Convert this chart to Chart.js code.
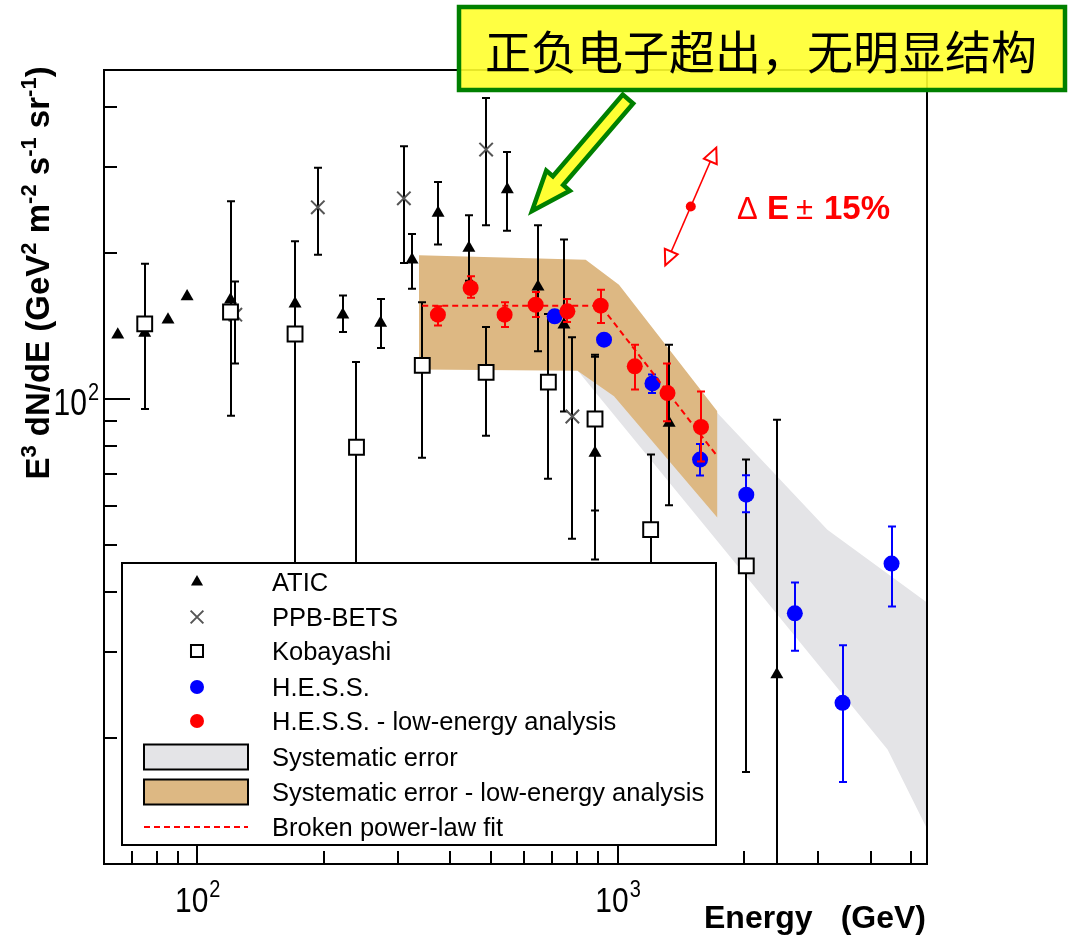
<!DOCTYPE html>
<html>
<head>
<meta charset="utf-8">
<script src="https://cdn.jsdelivr.net/npm/chart.js@4/dist/chart.umd.min.js"></script>
<style>
  html, body { margin: 0; padding: 0; background: #ffffff; }
  canvas { display: block; }
</style>
</head>
<body>
<canvas id="spectrum" width="1068" height="941"></canvas>
<script>
// Electron spectrum, E^3 dN/dE in GeV^2 m^-2 s^-1 sr^-1 versus energy in GeV

// ATIC
const aticEnergy = [64.7, 75.0, 85.2, 94.6, 120.0, 170.9, 222.0, 273.1, 324.4, 374.2, 443.0, 546.8, 646.8, 745.8, 884.0, 1327, 2394];
const aticFlux   = [135.5, 136.6, 145.5, 162.5, 160.0, 157.0, 149.0, 143.2, 193.4, 241.5, 204.5, 269.8, 170.2, 142.1, 77.3, 89.1, 27.0];
const aticLow    = [null, null, null, null, null, null, 137.2, 127.2, 168.6, 207.8, 175.1, 222.0, 125.2, 94.1, 46.6, 60.3, 9.0];
const aticHigh   = [null, null, null, null, null, null, 163.1, 160.5, 218.4, 279.8, 238.8, 322.6, 227.8, 212.8, 122.0, 129.2, 90.5];

// PPB-BETS
const ppbEnergy = [123.2, 193.6, 310.2, 486.8, 780.9];
const ppbFlux   = [149.0, 248.0, 258.8, 326.2, 91.9];
const ppbLow    = [118.1, 198.1, 190.5, 227.8, 51.4];
const ppbHigh   = [174.5, 299.1, 331.3, 416.9, 133.8];

// Kobayashi
const kobEnergy = [75.0, 120.0, 170.9, 239.3, 343.1, 486.8, 684.7, 884.0, 1199, 2025];
const kobFlux   = [142.6, 150.9, 135.9, 79.4, 117.1, 113.3, 108.2, 90.8, 53.7, 45.2];
const kobLow    = [95.2, 92.2, 15.0, 15.0, 75.5, 83.9, 68.4, 58.8, 20.0, 17.0];
const kobHigh   = [189.8, 255.2, 211.1, 119.0, 158.0, 140.5, 149.5, 123.2, 76.7, 74.9];

// H.E.S.S.
const hessEnergy = [708.8, 928.8, 1211, 1572, 2025, 2642, 3431, 4488];
const hessFlux   = [147.8, 132.3, 107.5, 74.9, 63.4, 36.1, 23.6, 45.7];
const hessLow    = [null, null, 102.7, 69.4, 58.3, 30.2, 16.2, 37.3];
const hessHigh   = [null, null, 112.1, 80.6, 69.5, 41.8, 31.0, 54.5];

// H.E.S.S. low-energy analysis
const hessLeEnergy = [373.8, 447.2, 538.7, 638.6, 759.8, 912.0, 1099, 1315, 1580];
const hessLeFlux   = [149.0, 169.1, 149.0, 156.2, 151.4, 155.5, 116.6, 102.7, 87.4];
const hessLeLow    = [141.6, 161.5, 140.5, 147.4, 143.9, 143.2, 104.4, 89.8, 74.2];
const hessLeHigh   = [155.0, 178.7, 158.0, 166.0, 160.5, 167.8, 129.2, 118.1, 103.5];

// Broken power-law fit
const fitEnergy = [343, 912, 1729];
const fitFlux   = [155.5, 155.5, 76.0];

// Systematic error band (H.E.S.S.)
const sysTopEnergy    = [802.6, 1729, 3158, 5470];
const sysTopFlux      = [175.9, 93.4, 53.7, 37.9];
const sysBottomEnergy = [802.6, 1729, 4391, 5470];
const sysBottomFlux   = [114.5, 50.8, 18.9, 12.9];

// Systematic error band (low-energy analysis)
const leTopEnergy    = [337, 840, 1008, 1729];
const leTopFlux      = [197.5, 193.4, 171.8, 94.1];
const leBottomEnergy = [337, 803, 981, 1729];
const leBottomFlux   = [114.8, 114.2, 101.1, 56.8];

// Energy-scale uncertainty marker: centre point, +/-15 % in energy
const scaleMarkEnergy = 1494;
const scaleMarkFlux = 249;
const scaleMarkFactor = 1.15;

// Axis ranges and ticks
const energyRange = [60, 5450];
const fluxRange = [10.98, 476];
const energyMajorTicks = [100, 1000];
const energyMinorTicks = [70, 80, 90, 200, 300, 400, 500, 600, 700, 800, 900, 2000, 3000, 4000, 5000];
const fluxMajorTicks = [100];
const fluxMinorTicks = [20, 30, 40, 50, 60, 70, 80, 90, 200, 300, 400];
const energyTickLabels = [{ value: 100, base: '10', exp: '2' }, { value: 1000, base: '10', exp: '3' }];
const fluxTickLabels = [{ value: 100, base: '10', exp: '2' }];

const toPoints = (xs, ys) => xs.map((v, i) => ({ x: v, y: ys[i] }));

const SANS = '"Liberation Sans", Arial, sans-serif';
const GRAY_FILL = '#e4e4e7';
const BROWN_FILL = '#ddb883';

const datasets = [
  { label: 'H.E.S.S. - low-energy analysis', data: toPoints(hessLeEnergy, hessLeFlux),
    errorLow: hessLeLow, errorHigh: hessLeHigh, errorColor: '#ff0000', legendRadius: 7,
    pointStyle: 'circle', pointRadius: 8, backgroundColor: '#ff0000', borderColor: '#ff0000', borderWidth: 0, order: 1 },
  { label: 'H.E.S.S.', data: toPoints(hessEnergy, hessFlux),
    errorLow: hessLow, errorHigh: hessHigh, errorColor: '#0000ff', legendRadius: 7,
    pointStyle: 'circle', pointRadius: 8, backgroundColor: '#0000ff', borderColor: '#0000ff', borderWidth: 0, order: 2 },
  { label: 'Broken power-law fit', data: toPoints(fitEnergy, fitFlux), showLine: true,
    borderColor: '#ff0000', borderWidth: 2, borderDash: [6, 4], pointRadius: 0, fill: false, order: 1.5 },
  { label: 'Kobayashi', data: toPoints(kobEnergy, kobFlux),
    errorLow: kobLow, errorHigh: kobHigh, errorColor: '#000000', legendRadius: 8.5,
    pointStyle: 'rect', pointRadius: 10.5, backgroundColor: '#ffffff', borderColor: '#000000', borderWidth: 2, order: 3 },
  { label: 'PPB-BETS', data: toPoints(ppbEnergy, ppbFlux),
    errorLow: ppbLow, errorHigh: ppbHigh, errorColor: '#000000', legendRadius: 9,
    pointStyle: 'crossRot', pointRadius: 9.5, backgroundColor: '#555555', borderColor: '#555555', borderWidth: 2, order: 4 },
  { label: 'ATIC', data: toPoints(aticEnergy, aticFlux),
    errorLow: aticLow, errorHigh: aticHigh, errorColor: '#000000', legendRadius: 7,
    pointStyle: 'triangle', pointRadius: 7.5, backgroundColor: '#000000', borderColor: '#000000', borderWidth: 0, order: 5 },
  { label: 'Systematic error - low-energy analysis', data: toPoints(leTopEnergy, leTopFlux), showLine: true,
    fill: '+1', backgroundColor: BROWN_FILL, borderColor: 'rgba(0,0,0,0)', borderWidth: 0, pointRadius: 0, order: 18 },
  { label: 'le-band-lower', data: toPoints(leBottomEnergy, leBottomFlux), showLine: true,
    fill: false, borderColor: 'rgba(0,0,0,0)', borderWidth: 0, pointRadius: 0, order: 19 },
  { label: 'Systematic error', data: toPoints(sysTopEnergy, sysTopFlux), showLine: true,
    fill: '+1', backgroundColor: GRAY_FILL, borderColor: 'rgba(0,0,0,0)', borderWidth: 0, pointRadius: 0, order: 20 },
  { label: 'sys-band-lower', data: toPoints(sysBottomEnergy, sysBottomFlux), showLine: true,
    fill: false, borderColor: 'rgba(0,0,0,0)', borderWidth: 0, pointRadius: 0, order: 21 }
];

// Vertical error bars with caps, drawn just before each dataset's markers
const errorBars = {
  id: 'errorBars',
  beforeDatasetDraw(chart, args) {
    const ds = chart.data.datasets[args.index];
    if (!ds.errorLow) return;
    const { ctx, chartArea: a, scales: { x, y } } = chart;
    ctx.save();
    ctx.beginPath();
    ctx.rect(a.left, a.top, a.right - a.left, a.bottom - a.top);
    ctx.clip();
    ctx.strokeStyle = ds.errorColor;
    ctx.lineWidth = 2;
    ds.data.forEach((p, i) => {
      const lo = ds.errorLow[i], hi = ds.errorHigh[i];
      if (lo == null || hi == null) return;
      const px = Math.round(x.getPixelForValue(p.x));
      const yHi = y.getPixelForValue(hi);
      const yLo = y.getPixelForValue(lo);
      ctx.beginPath();
      ctx.moveTo(px, yHi); ctx.lineTo(px, yLo);
      ctx.moveTo(px - 4, yHi); ctx.lineTo(px + 4, yHi);
      ctx.moveTo(px - 4, yLo); ctx.lineTo(px + 4, yLo);
      ctx.stroke();
    });
    ctx.restore();
  }
};

// Frame with inward ticks, then the legend panel
const frameAndLegend = {
  id: 'frameAndLegend',
  afterDatasetsDraw(chart) {
    const { ctx, chartArea: a, scales: { x, y } } = chart;
    ctx.save();
    ctx.strokeStyle = '#000000';
    ctx.lineWidth = 2;
    ctx.beginPath();
    energyMinorTicks.forEach(v => { const px = Math.round(x.getPixelForValue(v)); ctx.moveTo(px, a.bottom); ctx.lineTo(px, a.bottom - 13); });
    energyMajorTicks.forEach(v => { const px = Math.round(x.getPixelForValue(v)); ctx.moveTo(px, a.bottom); ctx.lineTo(px, a.bottom - 26); });
    fluxMinorTicks.forEach(v => { const py = Math.round(y.getPixelForValue(v)); ctx.moveTo(a.left, py); ctx.lineTo(a.left + 13, py); });
    fluxMajorTicks.forEach(v => { const py = Math.round(y.getPixelForValue(v)); ctx.moveTo(a.left, py); ctx.lineTo(a.left + 26, py); });
    ctx.stroke();
    ctx.strokeRect(a.left, a.top, a.right - a.left, a.bottom - a.top);

    // legend panel
    const box = { left: 122, top: 563, right: 716, bottom: 845 };
    ctx.fillStyle = '#ffffff';
    ctx.fillRect(box.left, box.top, box.right - box.left, box.bottom - box.top);
    ctx.lineWidth = 2;
    ctx.strokeStyle = '#000000';
    ctx.strokeRect(box.left, box.top, box.right - box.left, box.bottom - box.top);

    const byLabel = l => chart.data.datasets.find(d => d.label === l);
    const rows = [
      { text: 'ATIC', y: 582, kind: 'point' },
      { text: 'PPB-BETS', y: 617, kind: 'point' },
      { text: 'Kobayashi', y: 651, kind: 'point' },
      { text: 'H.E.S.S.', y: 687, kind: 'point' },
      { text: 'H.E.S.S. - low-energy analysis', y: 721, kind: 'point' },
      { text: 'Systematic error', y: 757, kind: 'band' },
      { text: 'Systematic error - low-energy analysis', y: 792, kind: 'band' },
      { text: 'Broken power-law fit', y: 827, kind: 'line' }
    ];
    const markerX = 197;
    rows.forEach(r => {
      const ds = byLabel(r.text);
      if (r.kind === 'point') {
        ctx.save();
        ctx.fillStyle = ds.backgroundColor;
        ctx.strokeStyle = ds.borderColor;
        ctx.lineWidth = ds.borderWidth;
        const style = { pointStyle: ds.pointStyle, rotation: 0, radius: ds.legendRadius, borderWidth: ds.borderWidth };
        Chart.helpers.drawPoint(ctx, style, markerX, r.y);
        ctx.restore();
      } else if (r.kind === 'band') {
        ctx.fillStyle = ds.backgroundColor;
        ctx.fillRect(144, r.y - 12.5, 104, 25);
        ctx.lineWidth = 2;
        ctx.strokeStyle = '#000000';
        ctx.strokeRect(144, r.y - 12.5, 104, 25);
      } else {
        ctx.save();
        ctx.strokeStyle = ds.borderColor;
        ctx.lineWidth = ds.borderWidth;
        ctx.setLineDash(ds.borderDash);
        ctx.beginPath(); ctx.moveTo(144, r.y); ctx.lineTo(248, r.y); ctx.stroke();
        ctx.restore();
      }
      ctx.fillStyle = '#000000';
      ctx.font = '25.5px ' + SANS;
      ctx.textBaseline = 'alphabetic';
      ctx.textAlign = 'left';
      ctx.fillText(r.text, 272, r.y + 9);
    });
    ctx.restore();
  },

  afterDraw(chart) {
    const { ctx, chartArea: a, scales: { x, y } } = chart;
    ctx.save();
    ctx.fillStyle = '#000000';
    ctx.textBaseline = 'alphabetic';

    // tick labels with superscript exponents
    const baseFont = '30px ' + SANS, expFont = '20px ' + SANS;
    const measure = (t, f) => { ctx.font = f; return ctx.measureText(t).width; };
    energyTickLabels.forEach(t => {
      const wb = measure(t.base, baseFont), we = measure(t.exp, expFont);
      const left = x.getPixelForValue(t.value) - (wb + we) / 2;
      ctx.textAlign = 'left';
      ctx.save();
      ctx.translate(left, 912);
      ctx.scale(1, 1.15);
      ctx.font = baseFont; ctx.fillText(t.base, 0, 0);
      ctx.font = expFont; ctx.fillText(t.exp, wb + 1, -13);
      ctx.restore();
    });
    fluxTickLabels.forEach(t => {
      const wb = measure(t.base, baseFont), we = measure(t.exp, expFont);
      const right = 99;
      const py = y.getPixelForValue(t.value);
      ctx.textAlign = 'left';
      ctx.save();
      ctx.translate(right - wb - we - 1, py + 16);
      ctx.scale(1, 1.2);
      ctx.font = baseFont; ctx.fillText(t.base, 0, 0);
      ctx.font = expFont; ctx.fillText(t.exp, wb + 1, -12);
      ctx.restore();
    });

    // axis titles
    ctx.font = 'bold 32px ' + SANS;
    ctx.textAlign = 'left';
    ctx.fillText('Energy', 704, 928);
    ctx.textAlign = 'right';
    ctx.fillText('(GeV)', 926, 928);

    const yTitle = [
      ['E', 0], ['3', 1], [' dN/dE (GeV', 0], ['2', 1], [' m', 0], ['-2', 1],
      [' s', 0], ['-1', 1], [' sr', 0], ['-1', 1], [')', 0]
    ];
    const mainF = 'bold 33px ' + SANS, supF = 'bold 22px ' + SANS;
    let total = 0;
    yTitle.forEach(([t, s]) => { total += measure(t, s ? supF : mainF); });
    ctx.save();
    ctx.translate(49, 273);
    ctx.rotate(-Math.PI / 2);
    ctx.textAlign = 'left';
    let cx = -total / 2;
    yTitle.forEach(([t, s]) => {
      ctx.font = s ? supF : mainF;
      ctx.fillText(t, cx, s ? -13 : 0);
      cx += ctx.measureText(t).width;
    });
    ctx.restore();

    // energy-scale uncertainty marker
    const cxm = x.getPixelForValue(scaleMarkEnergy), cym = y.getPixelForValue(scaleMarkFlux);
    const hx = x.getPixelForValue(scaleMarkEnergy * scaleMarkFactor), hy = y.getPixelForValue(scaleMarkFlux * scaleMarkFactor * scaleMarkFactor);
    const lx = x.getPixelForValue(scaleMarkEnergy / scaleMarkFactor), ly = y.getPixelForValue(scaleMarkFlux / (scaleMarkFactor * scaleMarkFactor));
    ctx.strokeStyle = '#ff0000';
    ctx.fillStyle = '#ff0000';
    ctx.lineWidth = 1.5;
    ctx.beginPath(); ctx.moveTo(lx, ly); ctx.lineTo(hx, hy); ctx.stroke();
    const openHead = (tx, ty, fx, fy) => {
      const dx = tx - fx, dy = ty - fy, len = Math.hypot(dx, dy);
      const ux = dx / len, uy = dy / len, nx = -uy, ny = ux;
      const bx = tx - ux * 15, by = ty - uy * 15;
      ctx.beginPath();
      ctx.moveTo(tx, ty);
      ctx.lineTo(bx + nx * 7, by + ny * 7);
      ctx.lineTo(bx - nx * 7, by - ny * 7);
      ctx.closePath();
      ctx.fillStyle = '#ffffff'; ctx.fill();
      ctx.lineWidth = 2; ctx.stroke();
    };
    openHead(hx, hy, cxm, cym);
    openHead(lx, ly, cxm, cym);
    ctx.fillStyle = '#ff0000';
    ctx.beginPath(); ctx.arc(cxm, cym, 5, 0, Math.PI * 2); ctx.fill();

    ctx.textAlign = 'left';
    ctx.font = '31px ' + SANS; ctx.fillText('\u0394', 737, 219);
    ctx.font = 'bold 33px ' + SANS; ctx.fillText('E', 767, 219);
    ctx.font = '31px ' + SANS; ctx.fillText('\u00B1', 796, 219);
    ctx.font = 'bold 33px ' + SANS; ctx.fillText('15%', 824, 219);

    // call-out box
    ctx.fillStyle = 'rgba(255, 255, 45, 0.9)';
    ctx.fillRect(459, 7, 606, 83);
    ctx.lineWidth = 4.5;
    ctx.strokeStyle = '#008000';
    ctx.strokeRect(459, 7, 606, 83);
    ctx.fillStyle = '#000000';
    ctx.font = '46px "Noto Sans CJK SC", sans-serif';
    ctx.textBaseline = 'middle';
    ctx.textAlign = 'left';
    ctx.fillText('正负电子超出，无明显结构', 485, 52);

    // call-out arrow
    const tip = [532, 211], tail = [628, 99];
    const dx = tip[0] - tail[0], dy = tip[1] - tail[1], len = Math.hypot(dx, dy);
    const ux = dx / len, uy = dy / len, nx = -uy, ny = ux;
    const headLen = 40, shaftHalf = 6.8, headHalf = 15.5;
    const bx = tip[0] - ux * headLen, by = tip[1] - uy * headLen;
    ctx.beginPath();
    ctx.moveTo(tail[0] + nx * shaftHalf, tail[1] + ny * shaftHalf);
    ctx.lineTo(bx + nx * shaftHalf, by + ny * shaftHalf);
    ctx.lineTo(bx + nx * headHalf, by + ny * headHalf);
    ctx.lineTo(tip[0], tip[1]);
    ctx.lineTo(bx - nx * headHalf, by - ny * headHalf);
    ctx.lineTo(bx - nx * shaftHalf, by - ny * shaftHalf);
    ctx.lineTo(tail[0] - nx * shaftHalf, tail[1] - ny * shaftHalf);
    ctx.closePath();
    ctx.fillStyle = '#ffff33';
    ctx.fill();
    ctx.lineJoin = 'miter';
    ctx.lineWidth = 4.5;
    ctx.strokeStyle = '#008000';
    ctx.stroke();
    ctx.restore();
  }
};

new Chart(document.getElementById('spectrum'), {
  type: 'scatter',
  data: { datasets },
  options: {
    responsive: false,
    animation: false,
    devicePixelRatio: 1,
    layout: { padding: { left: 104, top: 70, right: 141, bottom: 77 } },
    plugins: { legend: { display: false }, tooltip: { enabled: false } },
    scales: {
      x: { type: 'logarithmic', display: false, min: energyRange[0], max: energyRange[1] },
      y: { type: 'logarithmic', display: false, min: fluxRange[0], max: fluxRange[1] }
    }
  },
  plugins: [errorBars, frameAndLegend]
});
</script>
</body>
</html>
